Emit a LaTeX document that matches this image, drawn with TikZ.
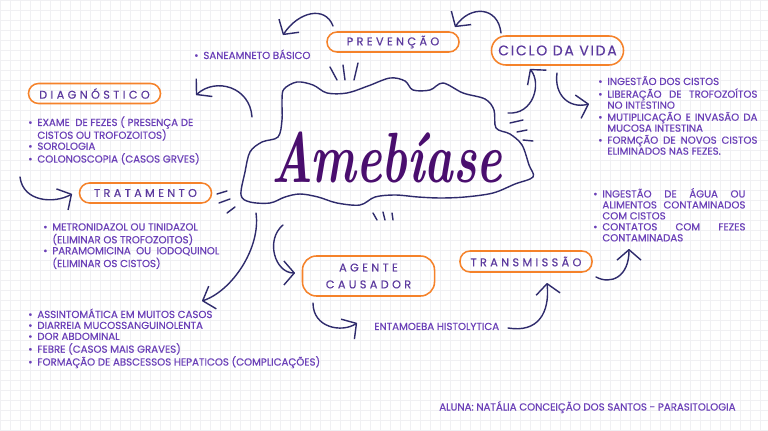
\documentclass[tikz,border=0pt]{standalone}
\usepackage{fontspec}
\usepackage{graphicx}
\newfontfamily\popfont[FakeBold=0.5]{Poppins}
\newfontfamily\spacedfont[LetterSpace=30,FakeBold=0.3]{Poppins}
\newfontfamily\vidafont[LetterSpace=12,FakeBold=0.3]{Poppins}
\usetikzlibrary{arrows.meta,positioning}
\definecolor{pillorange}{HTML}{F5822A}
\definecolor{labelpurple}{HTML}{5C3A9E}
\definecolor{listpurple}{HTML}{6B40B8}
\definecolor{titlepurple}{HTML}{4A0E6E}
\definecolor{inkblue}{HTML}{2F2B6C}
\definecolor{gridgray}{HTML}{F0F0F3}

\begin{document}
\begin{tikzpicture}[
    x=0.025cm, y=-0.025cm,
    pill/.style={rectangle, rounded corners=0.25cm, draw=pillorange, line width=1.1pt, minimum width=3.3cm, minimum height=0.5cm, inner sep=0pt, text=labelpurple, font=\spacedfont\fontsize{8}{9}\selectfont},
    listtext/.style={anchor=base west, inner sep=0pt, text=listpurple, font=\popfont\fontsize{7.25}{7.8}\selectfont},
    curvy/.style={draw=inkblue, line width=1pt, line cap=round, line join=round, -{Straight Barb[length=2.6mm,width=6mm,line join=round]}},
    burst/.style={draw=inkblue, line width=1pt, line cap=round},
    gridline/.style={draw=gridgray, line width=0.4pt}
]
\useasboundingbox (0,0) rectangle (768,431);
\fill[white] (0,0) rectangle (768,431);
% squared paper
\foreach \gx in {0,10,...,760} \draw[gridline] (\gx,0) -- (\gx,431);
\foreach \gy in {0,10,...,430} \draw[gridline] (0,\gy) -- (768,\gy);

% cloud round the title
\draw[burst] plot[smooth cycle, tension=0.55] coordinates {
  (284,89) (297,82) (313,85) (327,93) (347,93) (368,86) (390,78) (405,81)
  (413,90) (430,90) (443,83) (463,93) (485,99) (494,110) (496,128) (510,134)
  (522,145) (529,165) (533,177) (515,184) (493,193) (465,197) (440,198)
  (418,197) (395,195) (375,197) (360,205) (337,203) (318,197) (300,194)
  (285,197) (270,203) (250,202) (241,195) (245,172) (250,152) (262,142)
  (278,137) (282,120) (282,100)};
\node[text=titlepurple, font=\rmfamily\bfseries\itshape\fontsize{44}{44}\selectfont] (title) at (387,157) {\scalebox{0.78}[1.15]{Amebíase}};

% little strokes
\foreach \ax/\ay/\bx/\by in {330/67/337/80, 343/65/345/80, 358/63/354/80,
    510/123/523/120, 517/132/527/130, 523/140/533/141,
    217/194/227/191, 219/203/230/199, 227/213/235/207,
    373/213/377/220, 383/212/385/220, 392/213/393/220}
  \draw[burst] (\ax,\ay) -- (\bx,\by);

% topics
\node[pill] (prevencao) at (393,42) {PREVENÇÃO};
\node[pill, minimum height=0.725cm, rounded corners=0.36cm, font=\vidafont\fontsize{10}{11}\selectfont] (ciclo) at (557.5,50.5) {CICLO DA VIDA};
\node[pill] (diagnostico) at (94.5,93.5) {DIAGNÓSTICO};
\node[pill] (tratamento) at (145.5,193) {TRATAMENTO};
\node[pill, minimum height=1cm, rounded corners=0.35cm, align=center] (agente) at (368.5,276) {AGENTE\\[3pt]CAUSADOR};
\node[pill, minimum height=0.525cm] (transmissao) at (526,261.5) {TRANSMISSÃO};

% texts
\node[listtext] (saneamento) at (194,59) {\textbullet\hspace{3.5pt}SANEAMNETO BÁSICO};
\node[listtext] (diaglist) at (28,126) {\begin{tabular}[t]{@{}l@{\hspace{3.5pt}}l@{}}
  \textbullet & EXAME\ \ DE FEZES ( PRESENÇA DE\\
   & CISTOS OU TROFOZOITOS)\\
  \textbullet & SOROLOGIA\\
  \textbullet & COLONOSCOPIA (CASOS GRVES)
  \end{tabular}};
\node[listtext] (tratlist) at (43,230.5) {\begin{tabular}[t]{@{}l@{\hspace{3.5pt}}l@{}}
  \textbullet & METRONIDAZOL OU TINIDAZOL\\
   & (ELIMINAR OS TROFOZOITOS)\\
  \textbullet & PARAMOMICINA\ \ OU\ \ IODOQUINOL\\
   & (ELIMINAR OS CISTOS)
  \end{tabular}};
\node[listtext] (sintomas) at (28,318) {\begin{tabular}[t]{@{}l@{\hspace{3.5pt}}l@{}}
  \textbullet & ASSINTOMÁTICA EM MUITOS CASOS\\
  \textbullet & DIARREIA MUCOSSANGUINOLENTA\\
  \textbullet & DOR ABDOMINAL\\
  \textbullet & FEBRE (CASOS MAIS GRAVES)\\
  \textbullet & FORMAÇÃO DE ABSCESSOS HEPATICOS (COMPLICAÇÕES)
  \end{tabular}};
\node[listtext] (ciclolist) at (598,85) {\begin{tabular}[t]{@{}l@{\hspace{3.5pt}}p{3.75cm}@{}}
  \textbullet & INGESTÃO DOS CISTOS\\
  \textbullet & LIBERAÇÃO\hfill DE\hfill TROFOZOÍTOS\\
   & NO INTESTINO\\
  \textbullet & MUTIPLICAÇÃO\hfill E\hfill INVASÃO\hfill DA\\
   & MUCOSA INTESTINA\\
  \textbullet & FORMÇÃO\hfill DE\hfill NOVOS\hfill CISTOS\\
   & ELIMINADOS NAS FEZES.
  \end{tabular}};
\node[listtext] (translist) at (593,197.5) {\begin{tabular}[t]{@{}l@{\hspace{3.5pt}}p{3.575cm}@{}}
  \textbullet & INGESTÃO\hfill DE\hfill ÁGUA\hfill OU\\
   & ALIMENTOS\hfill CONTAMINADOS\\
   & COM CISTOS\\
  \textbullet & CONTATOS\hfill COM\hfill FEZES\\
   & CONTAMINADAS
  \end{tabular}};
\node[listtext] (entamoeba) at (374,330) {ENTAMOEBA HISTOLYTICA};
\node[listtext] (aluna) at (439,410.5) {ALUNA: NATÁLIA CONCEIÇÃO DOS SANTOS - PARASITOLOGIA};

% hand drawn arrows
\coordinate (prevS) at (333,26);  \coordinate (prevE) at (283,35);
\coordinate (vidaS) at (501,33);  \coordinate (vidaE) at (455,27);
\coordinate (diagS) at (252,117); \coordinate (diagE) at (196,95);
\coordinate (tratS) at (20,177);  \coordinate (tratE) at (72,194);
\coordinate (sintS) at (256,213); \coordinate (sintE) at (202,301);
\coordinate (agS) at (283,225);   \coordinate (agE) at (295,273);
\coordinate (entS) at (313,303);  \coordinate (entE) at (357,323);
\coordinate (trS) at (508,328);   \coordinate (trE) at (547,283);
\coordinate (tlS) at (596,277);   \coordinate (tlE) at (629,249);
\coordinate (cvS) at (508,113);   \coordinate (cvE) at (530,69);
\coordinate (clS) at (557,73);    \coordinate (clE) at (589,104);
\draw[curvy] (prevS) .. controls +(-8,-21) and +(15,-23) .. (prevE);
\draw[curvy] (vidaS) .. controls +(-3,-27) and +(15,-22) .. (vidaE);
\draw[curvy] (diagS) .. controls +(-2,-30) and +(20,-18) .. (diagE);
\draw[curvy] (tratS) .. controls +(3,25) and +(-18,10) .. (tratE);
\draw[curvy] (sintS) .. controls +(5,35) and +(30,-10) .. (sintE);
\draw[curvy] (agS) .. controls +(-18,15) and +(-20,0) .. (agE);
\draw[curvy] (entS) .. controls +(0,25) and +(-15,10) .. (entE);
\draw[curvy] (trS) .. controls +(30,5) and +(3,30) .. (trE);
\draw[curvy] (tlS) .. controls +(15,8) and +(0,28) .. (tlE);
\draw[curvy] (cvS) .. controls +(25,2) and +(12,15) .. (cvE);
\draw[curvy] (clS) .. controls +(-3,22) and +(-20,5) .. (clE);
\end{tikzpicture}
\end{document}
